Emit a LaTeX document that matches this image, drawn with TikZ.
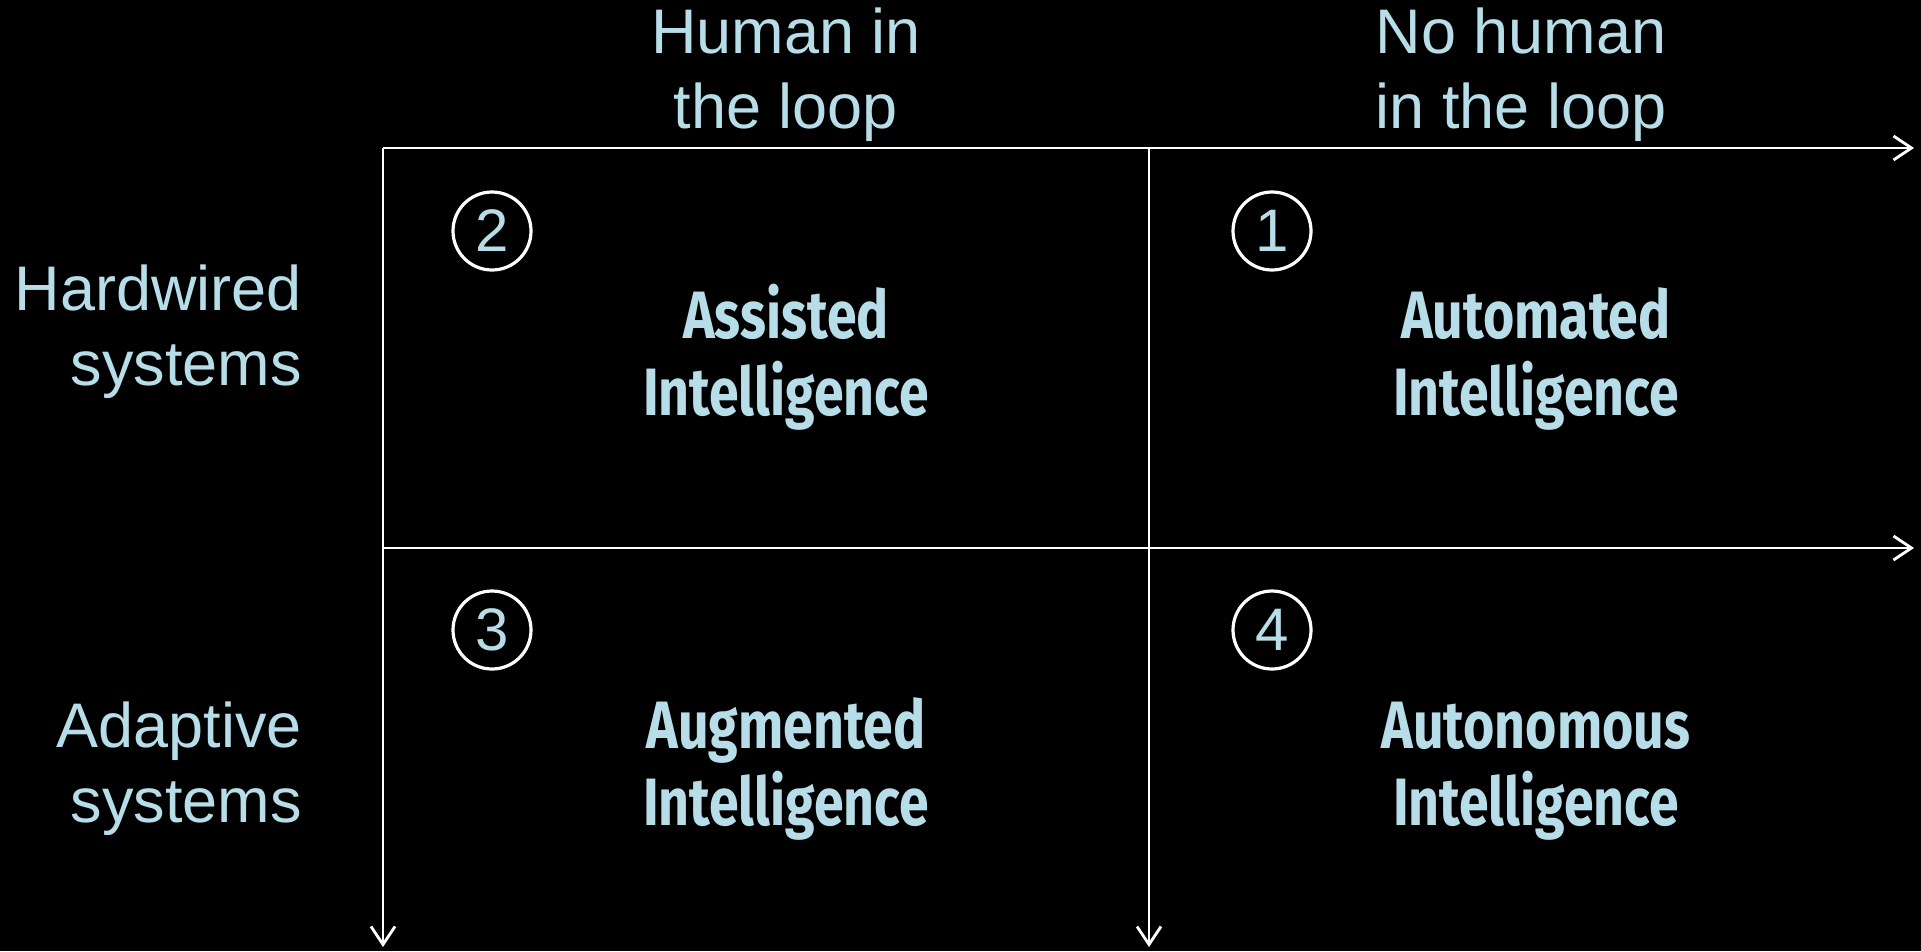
\documentclass[tikz,border=0pt]{standalone}
\usepackage{fontspec}
\setmainfont{Liberation Sans}
\newfontfamily\quadfont[FakeStretch=0.8]{Fira Sans}
\usetikzlibrary{arrows.meta}
\definecolor{lblue}{HTML}{B7DEE8}
\tikzset{
  axis/.style={draw=white, line width=2.8pt, -{Straight Barb[length=18pt,width=24pt,line width=2.8pt]}},
  numcirc/.style={circle, draw=white, line width=3.2pt, minimum size=78pt, inner sep=0pt, text=lblue, font=\fontsize{60}{70}\selectfont},
  axlabel/.style={text=lblue, font=\fontsize{63}{75}\selectfont, inner sep=0pt, anchor=base},
  quadlabel/.style={text=lblue, font=\quadfont\bfseries\fontsize{67}{77}\selectfont, align=center, inner sep=0pt, anchor=base}
}
\begin{document}
\begin{tikzpicture}[x=1pt,y=-1pt]
\fill[black] (0,0) rectangle (1921,951);
\useasboundingbox (0,0) rectangle (1921,951);
% axes
\coordinate (tl) at (383,148);
\coordinate (tr) at (1914,148);
\coordinate (tm) at (1149,148);
\coordinate (ml) at (383,548);
\coordinate (mr) at (1914,548);
\coordinate (bl) at (383,947);
\coordinate (bm) at (1149,947);
\draw[axis] (tl) -- (tr);
\draw[axis] (ml) -- (mr);
\draw[axis] (tl) -- (bl);
\draw[axis] (tm) -- (bm);
% column labels
\node[axlabel, align=center] (col1) at (786,128) {Human in\\the loop};
\node[axlabel, align=center] (col2) at (1521,128) {No human\\in the loop};
% row labels
\node[axlabel, align=right, anchor=base east] (row1) at (302,385) {Hardwired\\systems};
\node[axlabel, align=right, anchor=base east] (row2) at (302,822) {Adaptive\\systems};
% numbers
\node[numcirc] (n2) at (492,231) {2};
\node[numcirc] (n1) at (1272,231) {1};
\node[numcirc] (n3) at (492,630) {3};
\node[numcirc] (n4) at (1272,630) {4};
% quadrant labels
\node[quadlabel] (q2) at (786,415) {Assisted\\Intelligence};
\node[quadlabel] (q1) at (1536,415) {Automated\\Intelligence};
\node[quadlabel] (q3) at (786,825) {Augmented\\Intelligence};
\node[quadlabel] (q4) at (1536,825) {Autonomous\\Intelligence};
\end{tikzpicture}
\end{document}
